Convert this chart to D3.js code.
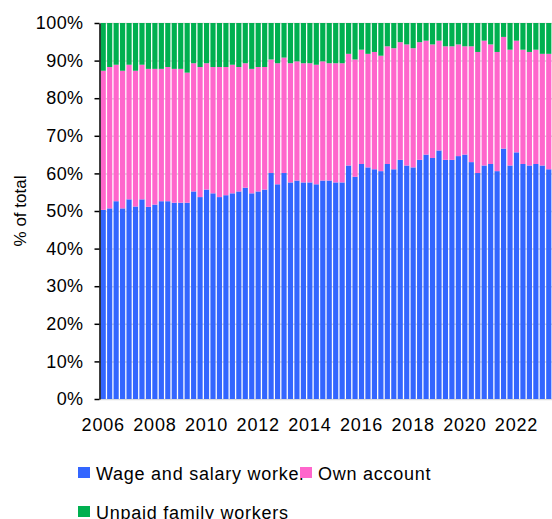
<!DOCTYPE html>
<html>
<head>
<meta charset="utf-8">
<script src="https://cdn.jsdelivr.net/npm/d3@7"></script>
<style>
  body { margin: 0; background: #fff; }
  text { font-family: "Liberation Sans", Arial, sans-serif; fill: #000; }
</style>
</head>
<body>
<div id="chart"></div>
<script>
// quarterly shares, 2006Q1 - 2023Q2
var years = ["2006","2007","2008","2009","2010","2011","2012","2013","2014","2015","2016","2017","2018","2019","2020","2021","2022","2023"];
var quarters = ["Q1","Q2","Q3","Q4"];
var categories = years.flatMap(function (y) { return quarters.map(function (q) { return y + q; }); }).slice(0, 70);

var wageSalary = [50.3,50.7,52.6,50.7,53.1,51.2,53.1,51.1,51.7,52.6,52.6,52.2,52.2,52.2,55.2,53.7,55.7,54.7,53.7,54.2,
  54.7,55.2,56.2,54.7,55.2,55.7,60.1,57.1,60.1,57.6,58.1,57.6,57.6,57.1,58.1,58.1,57.6,57.6,62.1,59.1,
  62.5,61.6,61.1,60.6,62.5,61.1,63.6,62.1,61.6,63.6,65.0,64.1,66.1,63.6,63.6,64.6,65.0,63.0,60.1,62.1,
  62.5,60.6,66.6,62.1,65.6,62.5,62.1,62.5,62.1,61.1];
var ownAccount = [37.0,37.6,36.3,36.6,35.8,36.1,35.8,36.7,36.1,35.2,35.7,35.6,35.6,34.6,34.1,34.6,33.6,33.6,34.6,34.1,
  34.2,33.1,33.1,33.1,33.1,32.6,30.2,32.2,30.7,31.7,31.7,31.7,31.7,31.8,31.7,31.2,31.7,31.7,29.7,31.2,
  30.4,30.2,31.2,30.7,31.3,32.2,31.3,32.2,31.7,31.3,30.3,30.2,29.2,30.2,30.2,29.7,28.8,30.8,32.2,33.2,
  31.8,31.7,29.7,30.8,29.7,30.4,30.2,30.4,29.7,30.7];
var unpaidFamily = [12.7,11.7,11.1,12.7,11.1,12.7,11.1,12.2,12.2,12.2,11.7,12.2,12.2,13.2,10.7,11.7,10.7,11.7,11.7,11.7,
  11.1,11.7,10.7,12.2,11.7,11.7,9.7,10.7,9.2,10.7,10.2,10.7,10.7,11.1,10.2,10.7,10.7,10.7,8.2,9.7,
  7.1,8.2,7.7,8.7,6.2,6.7,5.1,5.7,6.7,5.1,4.7,5.7,4.7,6.2,6.2,5.7,6.2,6.2,7.7,4.7,
  5.7,7.7,3.7,7.1,4.7,7.1,7.7,7.1,8.2,8.2];

var seriesNames = ["Wage and salary worker", "Own account", "Unpaid family workers"];
var seriesColors = ["#3366FF", "#FF66CC", "#00B050"];
var yTicks = [0,10,20,30,40,50,60,70,80,90,100];
var xTickLabels = ["2006","2008","2010","2012","2014","2016","2018","2020","2022"];

var width = 552, height = 519;
var plotLeft = 100, plotRight = 552, plotTop = 23, plotBottom = 399;

var svg = d3.select("#chart").append("svg").attr("width", width).attr("height", height);

var rows = categories.map(function (c, i) {
  return { cat: c, wage: wageSalary[i], own: ownAccount[i], unpaid: unpaidFamily[i] };
});
var keys = ["wage", "own", "unpaid"];
var stacked = d3.stack().keys(keys)(rows);

var x = d3.scaleBand().domain(categories).range([plotLeft, plotRight]).paddingInner(0.2).paddingOuter(0.1);
var y = d3.scaleLinear().domain([0, 100]).range([plotBottom, plotTop]);

// gridlines
svg.append("g")
  .attr("transform", "translate(" + plotLeft + ",0)")
  .call(d3.axisLeft(y).tickValues(yTicks).tickSize(-(plotRight - plotLeft)).tickFormat(""))
  .call(function (g) {
    g.select(".domain").remove();
    g.selectAll("line").attr("stroke", "#d9d9d9").attr("stroke-width", 1.5);
  });

// bars
svg.append("g").selectAll("g")
  .data(stacked)
  .enter().append("g")
  .attr("fill", function (d, i) { return seriesColors[i]; })
  .selectAll("rect")
  .data(function (d) { return d; })
  .enter().append("rect")
  .attr("x", function (d) { return x(d.data.cat); })
  .attr("width", x.bandwidth())
  .attr("y", function (d) { return y(d[1]); })
  .attr("height", function (d) { return y(d[0]) - y(d[1]); });

// y axis
var yAxis = svg.append("g")
  .attr("transform", "translate(" + (plotLeft - 0.5) + ",0)")
  .call(d3.axisLeft(y).tickValues(yTicks).tickSize(5).tickSizeOuter(0).tickPadding(11)
    .tickFormat(function (d) { return d + "%"; }));
yAxis.select(".domain").attr("stroke", "#000").attr("stroke-width", 1.5);
yAxis.selectAll(".tick line").attr("stroke", "#000").attr("stroke-width", 1.5);
yAxis.selectAll("text").style("font-size", "18px").style("letter-spacing", "0.4px");

// x labels
var xAxis = svg.append("g")
  .attr("transform", "translate(0," + plotBottom + ")")
  .call(d3.axisBottom(x).tickValues(categories.filter(function (c) {
      return c.slice(4) === "Q1" && xTickLabels.indexOf(c.slice(0, 4)) >= 0;
    }))
    .tickSize(0).tickPadding(19)
    .tickFormat(function (c) { return c.slice(0, 4); }));
xAxis.select(".domain").remove();
xAxis.selectAll("text").style("font-size", "18px").style("letter-spacing", "0.8px");

// y title
svg.append("text")
  .attr("transform", "translate(26,211) rotate(-90)")
  .attr("text-anchor", "middle")
  .style("font-size", "17px")
  .text("% of total");

// legend
var legendPos = [[78, 467], [300, 467], [78, 506]];
var legend = svg.append("g").selectAll("g")
  .data(seriesNames)
  .enter().append("g")
  .attr("transform", function (d, i) { return "translate(" + legendPos[i][0] + "," + legendPos[i][1] + ")"; });
legend.append("rect")
  .attr("width", 12).attr("height", 11)
  .attr("fill", function (d, i) { return seriesColors[i]; });
legend.append("text")
  .attr("x", 18).attr("y", 12.5)
  .style("font-size", "18px")
  .style("letter-spacing", "0.75px")
  .text(function (d) { return d; });
</script>
</body>
</html>
